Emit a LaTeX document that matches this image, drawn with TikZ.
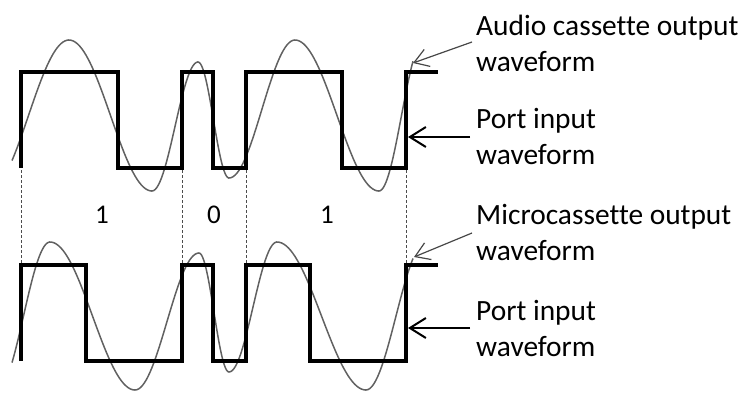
\documentclass[tikz,border=0pt]{standalone}
\usepackage{fontspec}
\setmainfont{Carlito}[Ligatures=NoCommon]
\usetikzlibrary{arrows.meta}
\begin{document}
\begin{tikzpicture}[x=1pt,y=-1pt,
  sq/.style={line width=4.2pt, line join=miter, draw=black},
  wave/.style={line width=1.5pt, draw=black!62},
  bitline/.style={line width=0.9pt, draw=black!70, dash pattern=on 3pt off 2pt},
  thinarrow/.style={line width=1.2pt, draw=black!72, -{Straight Barb[length=14pt,width=18pt]}},
  thickarrow/.style={line width=2pt, draw=black, -{Straight Barb[length=16pt,width=20pt]}},
  lab/.style={anchor=base west, inner sep=0pt, align=left, font=\fontsize{29.4}{36}\selectfont, text=black},
  bit/.style={inner sep=0pt, font=\fontsize{27}{30}\selectfont, text=black}]
\useasboundingbox (0,0) rectangle (746,392);

% ---------- top (audio cassette) ----------
\draw[wave] plot[domain=12:69,samples=30] (\x,{115.5+75.5*cos(180*(\x+12)/81)})
 -- plot[domain=69:152,samples=40] (\x,{115.5-75.5*cos(180*(\x-69)/83)})
 -- plot[domain=152:198,samples=30] (\x,{126.5+64.5*cos(180*(\x-152)/46)})
 -- plot[domain=198:229,samples=25] (\x,{120-58*cos(180*(\x-198)/31)})
 -- plot[domain=229:295,samples=35] (\x,{109+69*cos(180*(\x-229)/66)})
 -- plot[domain=295:379,samples=40] (\x,{115.5-75.5*cos(180*(\x-295)/84)})
 -- plot[domain=379:413,samples=25] (\x,{115.5+75.5*cos(180*(\x-379)/45)});
\draw[sq] (21,168) -- (21,72) -- (118,72) -- (118,168) -- (182,168) -- (182,72)
  -- (213,72) -- (213,168) -- (246,168) -- (246,72) -- (342,72) -- (342,168)
  -- (406,168) -- (406,72) -- (438,72);

% ---------- bottom (microcassette) ----------
\draw[wave] plot[domain=12:50,samples=25] (\x,{316+74*cos(180*(\x+3)/53)})
 -- plot[domain=50:135,samples=40] (\x,{316-74*cos(180*(\x-50)/85)})
 -- plot[domain=135:199,samples=35] (\x,{321.5+68.5*cos(180*(\x-135)/64)})
 -- plot[domain=199:229,samples=25] (\x,{312.5-59.5*cos(180*(\x-199)/30)})
 -- plot[domain=229:277,samples=30] (\x,{307+65*cos(180*(\x-229)/48)})
 -- plot[domain=277:366,samples=40] (\x,{316-74*cos(180*(\x-277)/89)})
 -- plot[domain=366:413,samples=25] (\x,{316+74*cos(180*(\x-366)/60)});
\draw[sq] (21,361) -- (21,265) -- (86,265) -- (86,361) -- (182,361) -- (182,265)
  -- (213,265) -- (213,361) -- (246,361) -- (246,265) -- (310,265) -- (310,361)
  -- (406,361) -- (406,265) -- (438,265);

% ---------- bit boundaries ----------
\foreach \bx in {21,182,246,406} \draw[bitline] (\bx,170) -- (\bx,263);
\node[bit] (b1) at (102,215) {1};
\node[bit] (b2) at (214,215) {0};
\node[bit] (b3) at (327,215) {1};

% ---------- labels (anchored at the baseline of the second line) ----------
\node[lab] (aud) at (476,71) {Audio cassette output\\waveform};
\node[lab] (pin1) at (476,164) {Port input\\waveform};
\node[lab] (mic) at (476,260) {Microcassette output\\waveform};
\node[lab] (pin2) at (476,356) {Port input\\waveform};

\coordinate (as) at (472,42);   \coordinate (at) at (413,63);
\coordinate (ps1) at (470,137); \coordinate (pt1) at (408,137);
\coordinate (ms) at (472,233);  \coordinate (mt) at (414,257);
\coordinate (ps2) at (470,328); \coordinate (pt2) at (408,328);
\draw[thinarrow] (as) -- (at);
\draw[thickarrow] (ps1) -- (pt1);
\draw[thinarrow] (ms) -- (mt);
\draw[thickarrow] (ps2) -- (pt2);
\end{tikzpicture}
\end{document}
